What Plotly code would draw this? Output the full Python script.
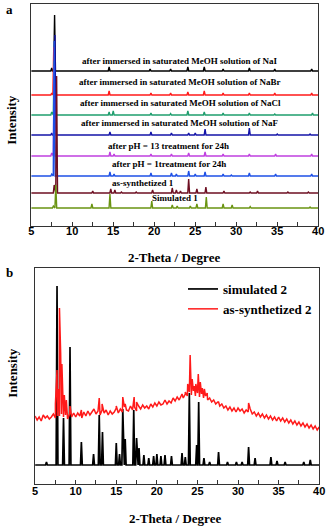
import numpy as np
import plotly.graph_objects as go

# ---- panel a: XRD patterns of compound 1 (stacked, offsets in px-like units)
labels_a = [
    'after immersed in saturated MeOH solution of NaI',
    'after immersed in saturated MeOH solution of NaBr',
    'after immersed in saturated MeOH solution of NaCl',
    'after immersed in saturated MeOH solution of NaF',
    'after pH = 13 treatment for 24h',
    'after pH = 1treatment for 24h',
    'as-synthetized 1',
    'Simulated 1',
]
offsets_a = [155, 131, 111, 91, 70, 50, 33, 18]

nai_pos = [7.5, 7.85, 14.5, 19.5, 22.0, 24.1, 26.1, 28.4, 31.6, 34.7, 39.2]
nai_h = [3, 56, 4, 2, 2, 4, 4, 2, 3, 2, 2]
nabr_pos = [7.5, 7.75, 14.5, 19.6, 22.0, 24.1, 26.1, 28.4, 31.6, 34.7, 39.2]
nabr_h = [2, 48, 4, 2, 2, 3, 4, 2, 2, 2, 2]
nacl_pos = [7.5, 7.8, 14.5, 15.0, 19.6, 22.0, 24.1, 26.1, 28.4, 31.6, 34.7, 39.3]
nacl_h = [3, 54, 3, 4, 2, 1.5, 4, 3, 2, 2, 1, 2]
naf_pos = [7.5, 7.9, 14.6, 19.6, 22.1, 24.2, 25.0, 26.2, 31.6, 35.0, 39.0]
naf_h = [2, 100, 3, 3, 2, 2, 2, 6, 7, 1, 1]
ph13_pos = [7.5, 7.8, 14.6, 15.1, 19.6, 22.1, 24.2, 26.2, 28.4, 31.6, 34.8, 39.2]
ph13_h = [3, 90, 4, 2, 2, 2, 3, 4, 2, 2, 2, 2]
ph1_pos = [7.5, 7.8, 14.6, 15.1, 19.6, 22.1, 22.7, 24.2, 25.0, 26.2, 28.4, 29.4, 31.6, 34.8, 39.2]
ph1_h = [2, 135, 4, 2, 3, 3, 2, 5, 2, 4, 2, 1, 3, 2, 2]
syn1_pos = [7.8, 8.1, 12.5, 14.7, 15.2, 16.0, 17.8, 19.8, 22.2, 22.7, 23.2, 24.2, 25.2, 26.3, 28.5,
            31.7, 32.6, 36.3, 38.8]
syn1_h = [8, 117, 2, 4, 3, 1, 1, 3, 5, 3, 2, 14, 4, 6, 2, 1, 2, 1, 1]
sim1_pos = [7.7, 8.0, 12.4, 14.6, 19.7, 22.2, 22.8, 24.4, 25.2, 26.35, 28.4, 29.5, 31.7, 39.0]
sim1_h = [2, 23, 4, 14, 7, 3, 2, 2, 4, 11, 4, 3, 1.5, 1]

colors_a = ['#000000', '#ff1a1a', '#1f9e6e', '#1414a8', '#c040e0', '#1e50e6', '#6e0f22', '#6a9412']

# ---- panel b: compound 2
sim2_pos = [6.4, 7.7, 8.5, 9.3, 10.7, 12.2, 12.9, 13.3, 15.0, 15.4, 15.8, 16.1, 17.15, 17.5, 17.8,
            18.4, 19.0, 19.6, 20.0, 20.5, 21.0, 21.8, 23.1, 23.5, 24.0, 24.9, 25.15, 25.8, 26.5,
            27.6, 28.7, 29.8, 30.5, 31.3, 32.1, 34.05, 34.8, 35.8, 38.1, 38.9]
sim2_top = [22, 198, 66, 137, 42, 30, 69, 52, 41, 30, 75, 45, 74, 46, 36,
            29, 26, 28, 30, 28, 29, 28, 31, 27, 91, 39, 82, 26, 22,
            32, 22, 22, 22, 37, 26, 27, 23, 22, 22, 24]
sim2_base = 19

syn2_y = [68, 64, 67, 63, 69, 66, 68, 65, 67, 70, 66, 68, 68, 70, 67, 69, 65, 70, 67, 71,
          67, 71, 68, 66, 72, 68, 73, 69, 72, 75, 70, 73, 69, 74, 71, 74, 69, 73, 70, 72,
          76, 71, 75, 72, 77, 74, 73, 78, 74, 77, 73, 78, 75, 79, 76, 78, 75, 80, 77, 81,
          78, 82, 79, 80, 84, 80, 83, 81, 86, 83, 87, 84, 89, 86, 90, 88, 92, 89, 93, 88,
          91, 87, 90, 86, 88, 84, 86, 82, 84, 80, 82, 78, 80, 76, 78, 74, 77, 73, 76, 72,
          76, 73, 75, 71, 74, 72, 75, 70, 72, 68, 71, 67, 70, 66, 69, 65, 68, 64, 67, 63,
          67, 63, 66, 62, 65, 61, 64, 60, 63, 59, 62, 58, 61, 57, 60, 56, 59, 55, 58, 54, 57]
syn2_pk_pos = [7.5, 7.7, 7.85, 8.0, 8.15, 8.3, 8.6, 8.85, 9.3, 10.7, 12.9, 13.25, 15.0, 15.8, 16.1,
               17.2, 17.5, 23.1, 23.5, 23.8, 24.1, 24.35, 24.6, 24.8, 25.1, 25.35, 25.6, 25.85,
               26.2, 27.6, 31.3]
syn2_pk_top = [80, 114, 95, 176, 130, 120, 89, 84, 78, 74, 86, 80, 78, 87, 80,
               87, 82, 90, 92, 100, 129, 105, 98, 100, 110, 102, 96, 95,
               91, 82, 81]


def profile(pos, h, base, w):
    xs, ys = [5], [base]
    for p, hh in sorted(zip(pos, h)):
        xs += [p - w, p, p + w]
        ys += [base, base + hh, base]
    xs.append(40)
    ys.append(base)
    return xs, ys


fig = go.Figure()

peaks_a = [(nai_pos, nai_h), (nabr_pos, nabr_h), (nacl_pos, nacl_h), (naf_pos, naf_h),
           (ph13_pos, ph13_h), (ph1_pos, ph1_h), (syn1_pos, syn1_h), (sim1_pos, sim1_h)]
for (pos, h), off, col in zip(peaks_a, offsets_a, colors_a):
    xs, ys = profile(pos, h, off, 0.11)
    fig.add_trace(go.Scatter(x=xs, y=ys, mode='lines', line=dict(color=col, width=1.4),
                             showlegend=False, xaxis='x', yaxis='y'))

# panel b
sx, sy = profile(sim2_pos, [t - sim2_base for t in sim2_top], sim2_base, 0.11)
fig.add_trace(go.Scatter(x=sx, y=sy, mode='lines', line=dict(color='black', width=1.7),
                         name='simulated 2', xaxis='x2', yaxis='y2'))

grid_x = np.linspace(5, 40, len(syn2_y))
rx = list(grid_x) + syn2_pk_pos
ry = syn2_y + syn2_pk_top
order = np.argsort(rx, kind='stable')
fig.add_trace(go.Scatter(x=np.array(rx)[order], y=np.array(ry)[order], mode='lines',
                         line=dict(color='#ff1a1a', width=1.5),
                         name='as-synthetized 2', xaxis='x2', yaxis='y2'))

tickfont = dict(family='Liberation Sans', size=11, color='black', weight='bold')
xcommon = dict(range=[5, 40], showline=True, mirror=True, linecolor='#333', linewidth=1,
               ticks='inside', ticklen=4, tickcolor='#333', dtick=5, tick0=5,
               minor=dict(ticks='inside', dtick=2.5, ticklen=4, tickcolor='#333'),
               showgrid=False, zeroline=False, tickfont=tickfont)
ycommon = dict(showline=True, mirror=True, linecolor='#333', linewidth=1, ticks='',
               showticklabels=False, showgrid=False, zeroline=False)

fig.update_layout(
    width=333, height=527, margin=dict(l=0, r=0, t=0, b=0),
    paper_bgcolor='white', plot_bgcolor='white',
    xaxis=dict(domain=[29 / 333, 324 / 333], anchor='y', ticklabelstandoff=-5, **xcommon),
    yaxis=dict(domain=[1 - 226 / 527, 1 - 4 / 527], anchor='x', range=[0, 222], **ycommon),
    xaxis2=dict(domain=[33 / 333, 325 / 333], anchor='y2', ticklabelstandoff=-3, **xcommon),
    yaxis2=dict(domain=[1 - 484 / 527, 1 - 268 / 527], anchor='x2', range=[0, 216], **ycommon),
    legend=dict(x=185 / 333, y=1 - 274 / 527, xanchor='left', yanchor='top',
                bgcolor='rgba(0,0,0,0)', itemwidth=30,
                font=dict(family='Liberation Serif', size=13, color='black', weight='bold')),
)

serif_b = dict(family='Liberation Serif', color='black', weight='bold')

# labels above each trace in panel a
label_x = [23.1, 23.2, 23.2, 23.2, 21.8, 21.8, 18.6, 22.5]
label_y = [165, 144, 123, 103, 80, 62, 43, 28]
for txt, lx, ly in zip(labels_a, label_x, label_y):
    fig.add_annotation(x=lx, y=ly, xref='x', yref='y', text=txt, showarrow=False,
                       xanchor='center', yanchor='middle', font=dict(size=9, **serif_b))


def paper_text(px, py, txt, size, angle=0):
    fig.add_annotation(x=px / 333, y=1 - py / 527, xref='paper', yref='paper', text=txt,
                       textangle=angle, showarrow=False, xanchor='center', yanchor='middle',
                       font=dict(size=size, **serif_b))


# panel letters, axis titles
paper_text(7, 9, 'a', 13)
paper_text(7, 272, 'b', 13)
paper_text(9, 120, 'Intensity', 13, -90)
paper_text(9, 373, 'Intensity', 13, -90)
paper_text(176, 258, '2-Theta / Degree', 13)
paper_text(177, 518, '2-Theta / Degree', 13)

# the page body has a default 8px margin; drop it so the figure sits at the window origin
fig.write_html('out.html', config={'displayModeBar': False},
               post_script="document.body.style.margin='0';")
